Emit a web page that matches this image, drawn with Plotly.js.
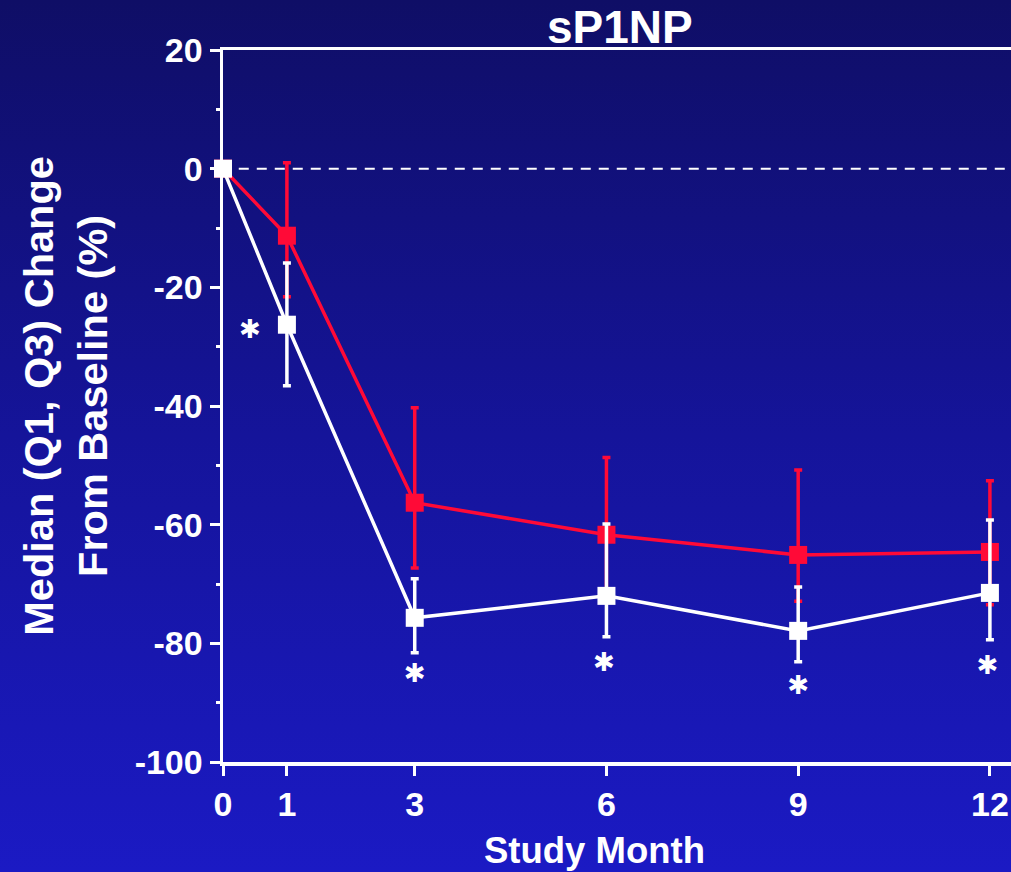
<!DOCTYPE html>
<html>
<head>
<meta charset="utf-8">
<script src="https://cdn.plot.ly/plotly-3.0.1.min.js"></script>
<style>
html,body{margin:0;padding:0;}
body{width:1011px;height:872px;background:linear-gradient(to bottom,#0f0e66 0%,#15149a 50%,#1b1ac4 100%);}
#chart{width:1011px;height:872px;}
</style>
</head>
<body>
<div id="chart"></div>
<script>
var months = [0, 1, 3, 6, 9, 12];
var redMedian = [0, -11.3, -56.3, -61.7, -65.1, -64.6];
var redQ3 = [0, 1.0, -40.3, -48.7, -50.8, -52.6];
var redQ1 = [0, -21.6, -67.3, -71.0, -72.9, -73.5];
var whiteMedian = [0, -26.3, -75.7, -72.0, -77.9, -71.5];
var whiteQ3 = [0, -15.9, -69.1, -59.9, -70.5, -59.2];
var whiteQ1 = [0, -36.6, -81.6, -78.9, -83.1, -79.4];
var starX = [0.42, 3, 5.96, 9, 11.96];
var starY = [-27.5, -85.5, -83.5, -87.4, -84.1];
var yTicks = [20, 0, -20, -40, -60, -80, -100];
var yTickText = ['20', '0', '-20', '-40', '-60', '-80', '-100'];
var xTickText = ['0', '1', '3', '6', '9', '12'];

var RED = '#ff0a37';
var WHITE = '#ffffff';
var FAM = 'Liberation Sans, Arial, sans-serif';

function up(q, m){ return q.map(function(v,i){ return +(v - m[i]).toFixed(2); }); }
function down(q, m){ return q.map(function(v,i){ return +(m[i] - v).toFixed(2); }); }

var traces = [
  {
    x: months, y: redMedian, type: 'scatter', mode: 'lines+markers',
    line: {color: RED, width: 3.5},
    marker: {symbol: 'square', size: 18, color: RED},
    error_y: {type: 'data', symmetric: false, array: up(redQ3, redMedian), arrayminus: down(redQ1, redMedian), color: RED, thickness: 3.5, width: 4},
    cliponaxis: false, showlegend: false, hoverinfo: 'x+y'
  },
  {
    x: months, y: whiteMedian, type: 'scatter', mode: 'lines+markers',
    line: {color: WHITE, width: 3.5},
    marker: {symbol: 'square', size: 18, color: WHITE},
    error_y: {type: 'data', symmetric: false, array: up(whiteQ3, whiteMedian), arrayminus: down(whiteQ1, whiteMedian), color: WHITE, thickness: 3.5, width: 4},
    cliponaxis: false, showlegend: false, hoverinfo: 'x+y'
  },
  {
    x: starX, y: starY, type: 'scatter', mode: 'text', text: starX.map(function(){return '\u2731';}),
    textfont: {family: 'DejaVu Sans, sans-serif', size: 26, color: WHITE},
    textposition: 'middle center', cliponaxis: false, showlegend: false, hoverinfo: 'skip'
  }
];

var layout = {
  width: 1011, height: 872,
  margin: {l: 223, r: 0, t: 50, b: 110},
  paper_bgcolor: 'rgba(0,0,0,0)',
  plot_bgcolor: 'rgba(0,0,0,0)',
  showlegend: false,
  font: {family: FAM, color: WHITE},
  xaxis: {
    range: [0, 12.33], tickvals: months, ticktext: xTickText,
    showgrid: false, zeroline: false,
    showline: true, linecolor: WHITE, linewidth: 3.5, mirror: true,
    ticks: 'outside', ticklen: 10, tickwidth: 3, tickcolor: WHITE,
    ticklabelstandoff: 0,
    tickfont: {family: FAM, size: 34, color: WHITE, weight: 'bold'}
  },
  yaxis: {
    range: [-100, 20], tickvals: yTicks, ticktext: yTickText,
    showgrid: false, zeroline: false,
    showline: true, linecolor: WHITE, linewidth: 3.5,
    ticks: 'outside', ticklen: 10, tickwidth: 3, tickcolor: WHITE,
    minor: {ticks: 'outside', ticklen: 4, tickwidth: 3, tickcolor: WHITE, dtick: 10, tick0: 0},
    tickfont: {family: FAM, size: 34, color: WHITE, weight: 'bold'}
  },
  shapes: [
    {type: 'line', xref: 'paper', yref: 'y', x0: 0.02, x1: 1, y0: 0, y1: 0,
     line: {color: WHITE, width: 2, dash: '10px,8px'}, layer: 'below'}
  ],
  annotations: [
    {text: '<b>sP1NP</b>', xref: 'paper', yref: 'paper', x: 0.504, y: 1.033, xanchor: 'center', yanchor: 'middle',
     showarrow: false, font: {family: FAM, size: 46, color: WHITE}},
    {text: '<b>Study Month</b>', xref: 'paper', yref: 'paper', x: 0.472, y: -0.124, xanchor: 'center', yanchor: 'middle',
     showarrow: false, font: {family: FAM, size: 36.5, color: WHITE}},
    {text: '<b>Median (Q1, Q3) Change<br>From Baseline (%)</b>', xref: 'paper', yref: 'paper', x: -0.2, y: 0.515,
     xanchor: 'center', yanchor: 'middle', textangle: -90,
     showarrow: false, font: {family: FAM, size: 41.5, color: WHITE}}
  ]
};

Plotly.newPlot('chart', traces, layout, {displayModeBar: false, staticPlot: true});
</script>
</body>
</html>
